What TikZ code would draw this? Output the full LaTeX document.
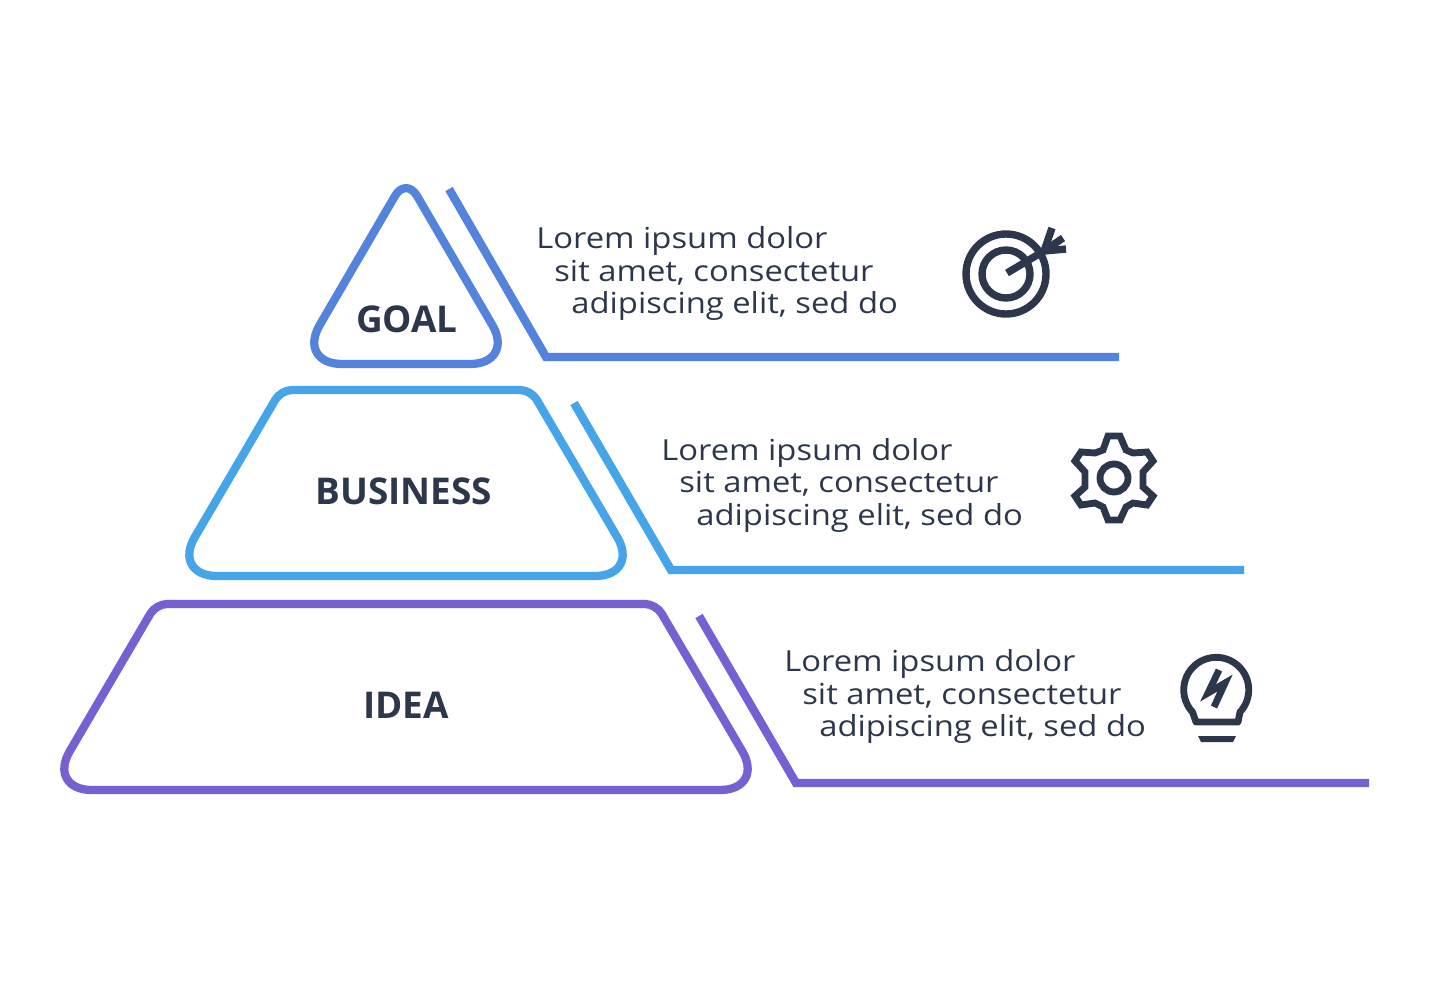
\documentclass[tikz,border=0pt]{standalone}
\usepackage{fontspec}
\setmainfont{Open Sans}
\newfontfamily\bodyfont[FakeStretch=1.13]{Open Sans}
\definecolor{goal_blue}{RGB}{84, 131, 220}
\definecolor{business_blue}{RGB}{69, 165, 232}
\definecolor{idea_purple}{RGB}{118, 96, 210}
\definecolor{ink_dark}{RGB}{44, 55, 75}
\tikzstyle{title}=[font=\fontsize{21}{24}\selectfont\bfseries,text=ink_dark,inner sep=0pt]
\tikzstyle{body}=[font=\bodyfont\fontsize{16.5}{20}\selectfont,text=ink_dark,inner sep=0pt,anchor=base west]
\tikzstyle{block}=[line width=4.7pt]
\tikzstyle{leader}=[line width=4.8pt,miter limit=10]
\tikzstyle{icon}=[draw=ink_dark,line width=4.2pt]
\begin{document}
\begin{tikzpicture}[x=0.02cm,y=-0.02cm]
    \useasboundingbox (0,0) rectangle (1435,980);
    % pyramid
    \draw [style=block,draw=goal_blue] (406,364) [rounded corners=0.9cm] -- (297,364) [rounded corners=0.44cm] -- (406,177) [rounded corners=0.9cm] -- (515,364) -- cycle;
    \draw [style=block,draw=business_blue] (406,576) [rounded corners=0.9cm] -- (172,576) [rounded corners=0.22cm] -- (281,390) -- (531,390) [rounded corners=0.9cm] -- (640,576) -- cycle;
    \draw [style=block,draw=idea_purple] (406,790) [rounded corners=0.9cm] -- (47,790) [rounded corners=0.22cm] -- (156,604) -- (656,604) [rounded corners=0.9cm] -- (765,790) -- cycle;
    \node [style=title] (goal) at (407,319) {GOAL};
    \node [style=title] (business) at (404,491) {BUSINESS};
    \node [style=title] (idea) at (406,705) {IDEA};
    % leaders
    \coordinate (1s) at (449,189);
    \coordinate (1m) at (546,357);
    \coordinate (1e) at (1119,357);
    \coordinate (2s) at (574,403);
    \coordinate (2m) at (671,570);
    \coordinate (2e) at (1244,570);
    \coordinate (3s) at (699,616);
    \coordinate (3m) at (796,783);
    \coordinate (3e) at (1369,783);
    \draw [style=leader,draw=goal_blue] (1s) to (1m) to (1e);
    \draw [style=leader,draw=business_blue] (2s) to (2m) to (2e);
    \draw [style=leader,draw=idea_purple] (3s) to (3m) to (3e);
    % text
    \node [style=body] (1a) at (536,248) {Lorem ipsum dolor};
    \node [style=body] (1b) at (554,281) {sit amet, consectetur};
    \node [style=body] (1c) at (571,313) {adipiscing elit, sed do};
    \node [style=body] (2a) at (661,460) {Lorem ipsum dolor};
    \node [style=body] (2b) at (679,492) {sit amet, consectetur};
    \node [style=body] (2c) at (696,525) {adipiscing elit, sed do};
    \node [style=body] (3a) at (784,671) {Lorem ipsum dolor};
    \node [style=body] (3b) at (802,704) {sit amet, consectetur};
    \node [style=body] (3c) at (819,736) {adipiscing elit, sed do};
    % target
    \draw [style=icon] (1006,274) circle (40);
    \draw [style=icon] (1006,274) circle (24);
    \draw [style=icon] (1007,273) -- (1044,251);
    \draw [style=icon] (1044,251) -- (1052,228);
    \draw [style=icon] (1044,251) -- (1063,238);
    \draw [style=icon] (1044,251) -- (1066,249);
    % gear
    \draw [style=icon,line width=3.9pt] (1108,436) -- (1120,436) -- (1126,450) -- (1133,453) -- (1147,452) -- (1153,461) -- (1143,472) -- (1143,487) -- (1153,496) -- (1147,505) -- (1133,503) -- (1126,507) -- (1120,520) -- (1108,520) -- (1103,507) -- (1095,503) -- (1081,505) -- (1075,496) -- (1085,487) -- (1085,472) -- (1075,461) -- (1081,452) -- (1095,453) -- (1103,450) -- cycle;
    \draw [style=icon,line width=3.9pt] (1114,478) circle (14);
    % bulb
    \draw [style=icon,line width=3.9pt,line join=round] (1196,722) -- (1238,722) -- (1240,712) arc [start angle=43, end angle=-223, radius=32.5] -- cycle;
    \fill [ink_dark] (1198,736) -- (1236,736) -- (1233,742) -- (1201,742) -- cycle;
    \draw [style=icon,line width=3.9pt] (1219,670) -- (1208,693) -- (1225,683) -- (1214,707);
\end{tikzpicture}
\end{document}
